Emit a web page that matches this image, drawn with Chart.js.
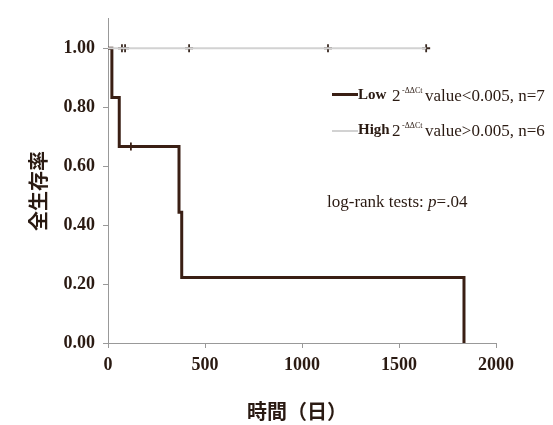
<!DOCTYPE html>
<html>
<head>
<meta charset="utf-8">
<script src="https://cdn.jsdelivr.net/npm/chart.js@4/dist/chart.umd.min.js"></script>
<style>
  html, body { margin: 0; padding: 0; background: #fff; }
  #wrap { position: relative; width: 553px; height: 425px; }
  .txt { position: absolute; font-family: "Liberation Serif", serif; color: #2a1a12; white-space: nowrap; line-height: 1; }
  .b { font-weight: bold; }
  .sup { font-size: 8px; }
  .swatch { position: absolute; height: 0; }
</style>
</head>
<body>
<div id="wrap">
  <canvas id="km"></canvas>

  <!-- legend -->
  <div class="swatch" style="left:332px;top:93px;width:26px;border-top:3px solid #3a1f14;"></div>
  <div class="txt b" style="left:358px;top:87px;font-size:15px;">Low</div>
  <div class="txt" style="left:392px;top:87px;font-size:17px;">2</div>
  <div class="txt sup" style="left:402px;top:87px;">-ΔΔCt</div>
  <div class="txt" style="left:425px;top:87px;font-size:17px;">value&lt;0.005, n=7</div>
  <div class="swatch" style="left:332px;top:130px;width:26px;border-top:2px solid #d2d2d2;"></div>
  <div class="txt b" style="left:358px;top:122px;font-size:15px;">High</div>
  <div class="txt" style="left:392px;top:122px;font-size:17px;">2</div>
  <div class="txt sup" style="left:402px;top:122px;">-ΔΔCt</div>
  <div class="txt" style="left:425px;top:122px;font-size:17px;">value&gt;0.005, n=6</div>

  <div class="txt" style="left:327px;top:193px;font-size:17px;">log-rank tests: <i>p</i>=.04</div>

  <!-- axis titles -->
  <div class="txt b" style="left:38px;top:191px;font-size:20px;font-family:'Noto Sans CJK JP',sans-serif;transform:translate(-50%,-50%) rotate(-90deg);">全生存率</div>
  <div class="txt b" style="left:297px;top:411px;font-size:20px;font-family:'Noto Sans CJK JP',sans-serif;transform:translate(-50%,-50%);">時間（日）</div>
</div>
<script>
// Low group (2^-ddCt < 0.005)
const lowTimes = [0, 20, 58, 366, 380, 1835];
const lowSurv  = [1, 0.833, 0.667, 0.444, 0.222, 0];
const lowCensorTimes = [118];
const lowCensorSurv  = [0.667];

// High group (2^-ddCt > 0.005)
const highTimes = [0, 1640];
const highSurv  = [1, 1];
const highCensorTimes = [72, 88, 418, 1134, 1640];
const highCensorSurv  = [1, 1, 1, 1, 1];

const xTicks = [0, 500, 1000, 1500, 2000];
const yTicks = [0, 0.2, 0.4, 0.6, 0.8, 1.0];

const pts = (xs, ys) => xs.map((x, i) => ({ x: x, y: ys[i] }));

const tickFont = { family: 'Liberation Serif', size: 18, weight: 'bold' };

new Chart(document.getElementById('km'), {
  type: 'scatter',
  data: {
    datasets: [
      { label: 'High', data: pts(highTimes, highSurv), showLine: true, stepped: 'before',
        borderColor: '#d2d2d2', borderWidth: 2, pointRadius: 0 },
      { label: 'High censor', data: pts(highCensorTimes, highCensorSurv), showLine: false,
        pointStyle: 'cross', pointRadius: 4, borderColor: '#3a2a22', borderWidth: 1.8 },
      { label: 'Low', data: pts(lowTimes, lowSurv), showLine: true, stepped: 'before',
        borderColor: '#3a1f14', borderWidth: 3, pointRadius: 0 },
      { label: 'Low censor', data: pts(lowCensorTimes, lowCensorSurv), showLine: false,
        pointStyle: 'cross', pointRadius: 4, borderColor: '#3a1f14', borderWidth: 1.8 }
    ]
  },
  options: {
    responsive: true,
    maintainAspectRatio: false,
    animation: false,
    layout: { padding: { top: 12, right: 57, left: 0, bottom: 0 } },
    plugins: { legend: { display: false }, tooltip: { enabled: false } },
    scales: {
      x: {
        type: 'linear', min: 0, max: 2000,
        afterBuildTicks: s => { s.ticks = xTicks.map(v => ({ value: v })); },
        afterFit: s => { s.height = 82; },
        ticks: { font: tickFont, color: '#2a1a12', padding: 7, callback: v => String(v) },
        grid: { drawOnChartArea: false, tickLength: 5, color: '#999' },
        border: { color: '#999', width: 1 }
      },
      y: {
        type: 'linear', min: 0, max: 1.1,
        afterBuildTicks: s => { s.ticks = yTicks.map(v => ({ value: v })); },
        afterFit: s => { s.width = 108; },
        ticks: { font: tickFont, color: '#2a1a12', padding: 8, callback: v => Number(v).toFixed(2) },
        grid: { drawOnChartArea: false, tickLength: 5, color: '#999' },
        border: { color: '#999', width: 1 }
      }
    }
  }
});
</script>
</body>
</html>
